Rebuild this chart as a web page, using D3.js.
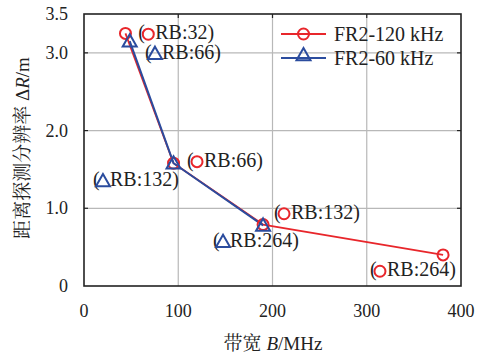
<!DOCTYPE html>
<html>
<head>
<meta charset="utf-8">
<script src="https://cdn.jsdelivr.net/npm/d3@7"></script>
<style>
  body { margin: 0; background: #fff; }
  svg text { font-family: "Liberation Serif", "Times New Roman", serif; fill: #222; }
  .cjk { font-family: "Noto Serif CJK SC", "Noto Sans CJK SC", serif; }
</style>
</head>
<body>
<svg id="chart" width="483" height="358"></svg>
<script>
// FR2-120 kHz (red circles) and FR2-60 kHz (blue triangles)
const bandwidth120 = [44, 95, 190, 381];
const resolution120 = [3.25, 1.58, 0.79, 0.40];
const bandwidth60 = [48.5, 95, 190];
const resolution60 = [3.15, 1.58, 0.78];

// point annotations: x = left edge of "(", y = vertical centre of the marker
const annotation120 = [
  { rb: 32, x: 57.6, y: 3.24 },
  { rb: 66, x: 109.3, y: 1.60 },
  { rb: 132, x: 201.6, y: 0.93 },
  { rb: 264, x: 303.4, y: 0.19 }
];
const annotation60 = [
  { rb: 66, x: 64.7, y: 2.99 },
  { rb: 132, x: 9.5, y: 1.35 },
  { rb: 264, x: 136.9, y: 0.57 }
];

const xTicks = [0, 100, 200, 300, 400];
const yTicks = [0, 1.0, 2.0, 3.0, 3.5];
const xGrid = [100, 200, 300];
const yGrid = [1.0, 2.0, 3.0];

const red = '#e8262b';
const blue = '#2b4c9e';

const svg = d3.select('#chart');
const padLeft = 84, padRight = 461, padTop = 14, padBottom = 286;
const x = d3.scaleLinear().domain([0, 400]).range([padLeft, padRight]);
const y = d3.scaleLinear().domain([0, 3.5]).range([padBottom, padTop]);

// grid
svg.append('g').selectAll('line').data(xGrid).join('line')
  .attr('x1', d => x(d)).attr('x2', d => x(d))
  .attr('y1', padTop).attr('y2', padBottom)
  .attr('stroke', '#b8b8b8').attr('stroke-width', 1.2);
svg.append('g').selectAll('line').data(yGrid).join('line')
  .attr('x1', padLeft).attr('x2', padRight)
  .attr('y1', d => y(d)).attr('y2', d => y(d))
  .attr('stroke', '#b8b8b8').attr('stroke-width', 1.2);

// inward ticks
svg.append('g').selectAll('line').data(yGrid).join('line')
  .attr('x1', padLeft).attr('x2', padLeft + 4)
  .attr('y1', d => y(d)).attr('y2', d => y(d))
  .attr('stroke', '#222').attr('stroke-width', 1.2);
svg.append('g').selectAll('line').data(yGrid).join('line')
  .attr('x1', padRight - 4).attr('x2', padRight)
  .attr('y1', d => y(d)).attr('y2', d => y(d))
  .attr('stroke', '#222').attr('stroke-width', 1.2);
svg.append('g').selectAll('line').data(xGrid).join('line')
  .attr('x1', d => x(d)).attr('x2', d => x(d))
  .attr('y1', padTop).attr('y2', padTop + 4)
  .attr('stroke', '#222').attr('stroke-width', 1.2);

// frame
svg.append('rect')
  .attr('x', padLeft).attr('y', padTop)
  .attr('width', padRight - padLeft).attr('height', padBottom - padTop)
  .attr('fill', 'none').attr('stroke', '#222').attr('stroke-width', 1.6);

// tick labels
svg.append('g').selectAll('text').data(xTicks).join('text')
  .attr('x', d => x(d)).attr('y', padBottom + 31)
  .attr('text-anchor', 'middle').attr('font-size', 18)
  .text(d => d);
svg.append('g').selectAll('text').data(yTicks).join('text')
  .attr('x', padLeft - 16).attr('y', d => y(d) + 6)
  .attr('text-anchor', 'end').attr('font-size', 18)
  .text(d => d === 0 ? '0' : d.toFixed(1));

// axis titles
const xt = svg.append('text')
  .attr('x', 273).attr('y', 350)
  .attr('text-anchor', 'middle').attr('font-size', 19);
xt.append('tspan').attr('class', 'cjk').text('带宽 ');
xt.append('tspan').attr('font-style', 'italic').text('B');
xt.append('tspan').text('/MHz');

const yt = svg.append('text')
  .attr('transform', 'translate(29,148) rotate(-90)')
  .attr('text-anchor', 'middle').attr('font-size', 19);
yt.append('tspan').attr('class', 'cjk').text('距离探测分辨率 ');
yt.append('tspan').text('Δ');
yt.append('tspan').attr('font-style', 'italic').text('R');
yt.append('tspan').text('/m');

// marker helpers
function circleMarker(g, cx, cy) {
  g.append('circle').attr('cx', cx).attr('cy', cy).attr('r', 5.5)
    .attr('fill', 'none').attr('stroke', red).attr('stroke-width', 2);
}
function triangleMarker(g, cx, cy) {
  const s = 7;
  g.append('path')
    .attr('d', `M${cx},${cy - s}L${cx + s},${cy + s * 0.75}L${cx - s},${cy + s * 0.75}Z`)
    .attr('fill', 'none').attr('stroke', blue).attr('stroke-width', 2);
}

// series lines
const line = d3.line().x(d => x(d[0])).y(d => y(d[1]));
const pts120 = bandwidth120.map((b, i) => [b, resolution120[i]]);
const pts60 = bandwidth60.map((b, i) => [b, resolution60[i]]);
svg.append('path').datum(pts120).attr('d', line)
  .attr('fill', 'none').attr('stroke', red).attr('stroke-width', 1.8);
svg.append('path').datum(pts60).attr('d', line)
  .attr('fill', 'none').attr('stroke', blue).attr('stroke-width', 2);

const markers = svg.append('g');
pts120.forEach(p => circleMarker(markers, x(p[0]), y(p[1])));
pts60.forEach(p => triangleMarker(markers, x(p[0]), y(p[1])));

// annotations "(marker RB:n)"
function annotate(a, kind) {
  const g = svg.append('g');
  const bx = x(a.x), cy = y(a.y);
  g.append('text').attr('x', bx).attr('y', cy + 5).attr('font-size', 20).text('(');
  if (kind === 'c') circleMarker(g, bx + 10, cy);
  else triangleMarker(g, bx + 10, cy);
  g.append('text').attr('x', bx + 17).attr('y', cy + 5).attr('font-size', 20)
    .text(`RB:${a.rb})`);
}
annotation120.forEach(a => annotate(a, 'c'));
annotation60.forEach(a => annotate(a, 't'));

// legend
const legend = svg.append('g');
const lx1 = 281, lx2 = 326;
legend.append('line').attr('x1', lx1).attr('x2', lx2).attr('y1', 34).attr('y2', 34)
  .attr('stroke', red).attr('stroke-width', 1.8);
circleMarker(legend, (lx1 + lx2) / 2, 34);
legend.append('text').attr('x', 334).attr('y', 41).attr('font-size', 20).text('FR2-120 kHz');
legend.append('line').attr('x1', lx1).attr('x2', lx2).attr('y1', 58).attr('y2', 58)
  .attr('stroke', blue).attr('stroke-width', 2);
triangleMarker(legend, (lx1 + lx2) / 2, 55);
legend.append('text').attr('x', 334).attr('y', 65).attr('font-size', 20).text('FR2-60 kHz');
</script>
</body>
</html>
